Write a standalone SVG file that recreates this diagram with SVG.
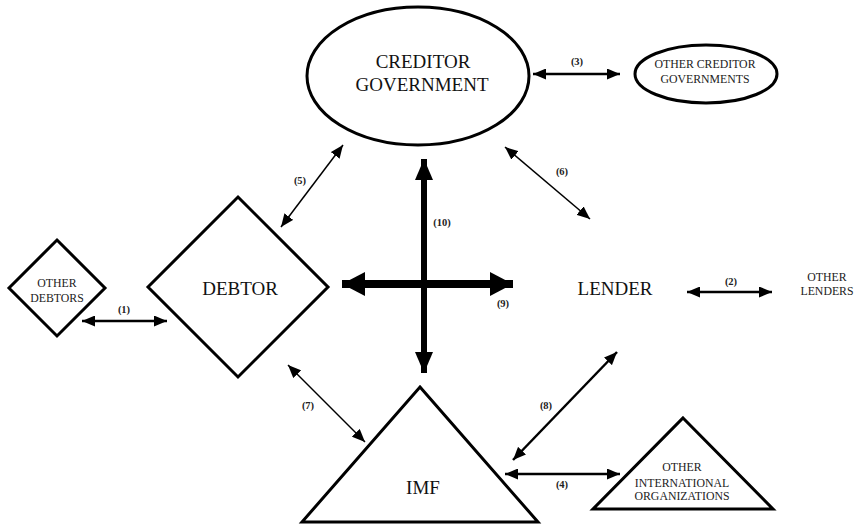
<svg xmlns="http://www.w3.org/2000/svg" width="855" height="524" viewBox="0 0 855 524">
<defs>
<style>
.shape{fill:#fff;stroke:#000;stroke-width:3;stroke-linejoin:miter}
.big{font-family:"Liberation Serif","Times New Roman",serif;font-size:19px;text-anchor:middle;fill:#111}
.small{font-family:"Liberation Serif","Times New Roman",serif;font-size:11.8px;text-anchor:middle;fill:#222}
.lbl{font-family:"Liberation Serif","Times New Roman",serif;font-size:10.5px;font-weight:bold;text-anchor:middle;fill:#222}
.c2{stroke:#000;stroke-width:2.5;fill:none}
.c1{stroke:#000;stroke-width:1.5;fill:none}
</style>
<marker id="a2" markerUnits="userSpaceOnUse" markerWidth="13" markerHeight="11" refX="13" refY="5.5" orient="auto-start-reverse" viewBox="0 0 13 11"><path d="M0,0 L13,5.5 L0,11 z" fill="#000"/></marker>
<marker id="a1" markerUnits="userSpaceOnUse" markerWidth="13" markerHeight="11" refX="13" refY="5.5" orient="auto-start-reverse" viewBox="0 0 13 11"><path d="M0,0 L13,5.5 L0,11 z" fill="#000"/></marker>
<marker id="av" markerUnits="userSpaceOnUse" markerWidth="21" markerHeight="18" refX="21" refY="9" orient="auto-start-reverse" viewBox="0 0 21 18"><path d="M0,0 L21,9 L0,18 z" fill="#000"/></marker>
<marker id="ah" markerUnits="userSpaceOnUse" markerWidth="23" markerHeight="24" refX="23" refY="12" orient="auto-start-reverse" viewBox="0 0 23 24"><path d="M0,0 L23,12 L0,24 z" fill="#000"/></marker>
</defs>
<rect width="855" height="524" fill="#fff"/>

<g id="creditor-government">
<ellipse class="shape" cx="418" cy="76" rx="111" ry="69"/>
<text class="big" x="423" y="68">CREDITOR</text>
<text class="big" x="422" y="91">GOVERNMENT</text>
</g>

<g id="other-creditor-governments">
<ellipse class="shape" cx="706" cy="74" rx="71" ry="29"/>
<text class="small" x="705" y="68">OTHER CREDITOR</text>
<text class="small" x="705" y="83">GOVERNMENTS</text>
</g>

<g id="debtor">
<polygon class="shape" points="238,197 328,287 238,377 148,287"/>
<text class="big" x="240" y="295">DEBTOR</text>
</g>

<g id="other-debtors">
<polygon class="shape" points="57,240 105,288 57,336 9,288"/>
<text class="small" x="57" y="287">OTHER</text>
<text class="small" x="57" y="302">DEBTORS</text>
</g>

<g id="lender">
<text class="big" x="615" y="295">LENDER</text>
</g>

<g id="other-lenders">
<text class="small" x="827" y="281">OTHER</text>
<text class="small" x="827" y="295">LENDERS</text>
</g>

<g id="imf">
<polygon class="shape" points="420,387 538,522 302,522"/>
<text class="big" x="423" y="494">IMF</text>
</g>

<g id="other-international-organizations">
<polygon class="shape" points="683,418 773,509 593,509"/>
<text class="small" x="682" y="471">OTHER</text>
<text class="small" x="682" y="487">INTERNATIONAL</text>
<text class="small" x="682" y="500">ORGANIZATIONS</text>
</g>

<g id="connectors">
<line class="c2" x1="82" y1="321" x2="167" y2="321" marker-start="url(#a2)" marker-end="url(#a2)"/>
<text class="lbl" x="124" y="313">(1)</text>
<line class="c2" x1="687" y1="292" x2="772" y2="292" marker-start="url(#a2)" marker-end="url(#a2)"/>
<text class="lbl" x="731" y="285">(2)</text>
<line class="c2" x1="533" y1="74" x2="620" y2="74" marker-start="url(#a2)" marker-end="url(#a2)"/>
<text class="lbl" x="577" y="65">(3)</text>
<line class="c2" x1="505" y1="474" x2="620" y2="474" marker-start="url(#a2)" marker-end="url(#a2)"/>
<text class="lbl" x="562" y="488">(4)</text>
<line class="c1" x1="343" y1="145" x2="281" y2="227" marker-start="url(#a1)" marker-end="url(#a1)"/>
<text class="lbl" x="300" y="184">(5)</text>
<line class="c1" x1="505" y1="147" x2="590" y2="219" marker-start="url(#a1)" marker-end="url(#a1)"/>
<text class="lbl" x="562" y="175">(6)</text>
<line class="c1" x1="288" y1="365" x2="365" y2="442" marker-start="url(#a1)" marker-end="url(#a1)"/>
<text class="lbl" x="308" y="409">(7)</text>
<line class="c2" x1="617" y1="352" x2="513" y2="460" marker-start="url(#a2)" marker-end="url(#a2)"/>
<text class="lbl" x="546" y="409">(8)</text>
<line stroke="#000" stroke-width="8" x1="342" y1="284" x2="513" y2="284" marker-start="url(#ah)" marker-end="url(#ah)"/>
<text class="lbl" x="503" y="307">(9)</text>
<line stroke="#000" stroke-width="6" x1="424" y1="159" x2="424" y2="373" marker-start="url(#av)" marker-end="url(#av)"/>
<text class="lbl" x="442" y="226">(10)</text>
</g>
</svg>
